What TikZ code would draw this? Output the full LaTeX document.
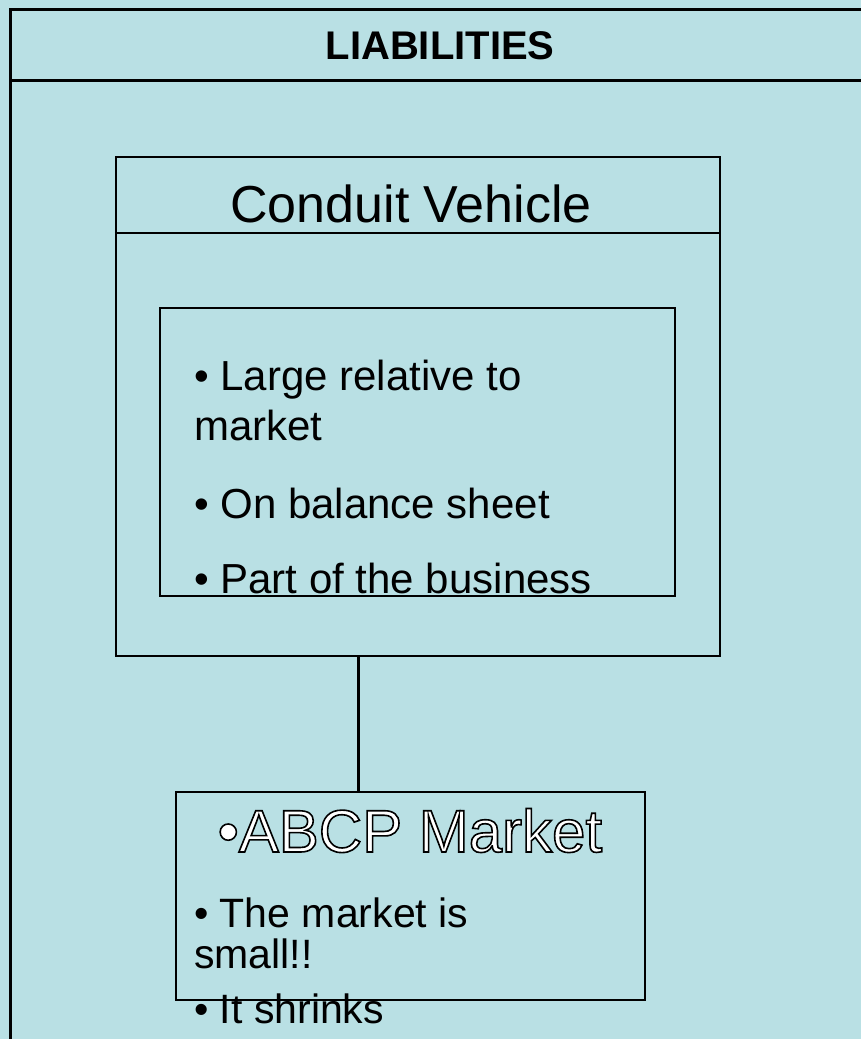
\documentclass[tikz,border=0pt]{standalone}
\usepackage{fontspec}
\setmainfont{Liberation Sans}
\usepackage{xcolor}
\usetikzlibrary{positioning}

\definecolor{slidebg}{RGB}{185,224,228}
\newcommand{\hollowtext}[1]{{\color{white}\special{pdf:literal 0 G 1.6 w 2 Tr}#1\special{pdf:literal 0 Tr}}}

\tikzset{
  frame/.style={draw, line width=2.5pt, rectangle, inner sep=0pt},
  item/.style={anchor=base west, inner sep=0pt, align=left, font=\fontsize{42}{50}\selectfont},
}

\begin{document}
\begin{tikzpicture}[x=1pt, y=-1pt]

    \useasboundingbox (0,0) rectangle (861,1039);
    \fill[slidebg] (0,0) rectangle (861,1039);
    \clip (0,0) rectangle (861,1039);

    % outer panel
    \draw[line width=3pt] (10,1050) |- (875,9);
    \draw[line width=3pt] (10,80) -- (875,80);
    \node[anchor=base] (title) at (440,59) {\bfseries\fontsize{40}{48}\selectfont LIABILITIES};

    % boxes
    \node[frame, minimum width=604pt, minimum height=499pt] (conduit) at (418,406.5) {};
    \draw[line width=2.5pt] (conduit.west |- 0,233) -- (conduit.east |- 0,233);
    \node[anchor=base] (conduittitle) at (411,222) {\fontsize{52}{60}\selectfont Conduit Vehicle};

    \node[frame, line width=2pt, minimum width=515pt, minimum height=288pt] (facts) at (417.5,452) {};
    \node[frame, minimum width=469pt, minimum height=208pt] (abcp) at (410.5,896) {};

    \draw[line width=3pt] (conduit.south -| 358,0) -- (abcp.north -| 358,0);

    % texts
    \node[item] (largeitem) at (194,440) {• Large relative to\\market};
    \node[item] (balanceitem) at (194,518) {• On balance sheet};
    \node[item] (partitem) at (194,593) {• Part of the business};

    \node[anchor=base] (abcptitle) at (410,852) {\fontsize{60}{66}\selectfont\hollowtext{•ABCP Market}};
    \node[item, font=\fontsize{41}{41}\selectfont] (smallitem) at (194,968) {• The market is\\small!!};
    \node[item, font=\fontsize{41}{41}\selectfont] (shrinkitem) at (194,1023) {• It shrinks};

\end{tikzpicture}
\end{document}
